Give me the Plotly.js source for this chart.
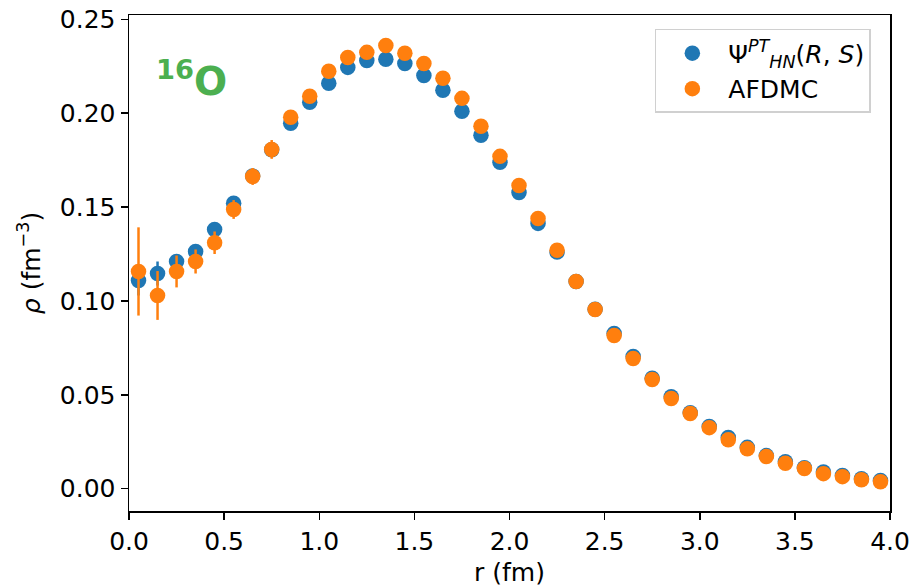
<!DOCTYPE html>
<html>
<head>
<meta charset="utf-8">
<script src="https://cdn.plot.ly/plotly-3.0.1.min.js"></script>
<style>html,body{margin:0;padding:0;background:#fff;}#chart{width:914px;height:587px;}</style>
</head>
<body>
<div id="chart"></div>
<script>
const r = [0.05,0.15,0.25,0.35,0.45,0.55,0.65,0.75,0.85,0.95,1.05,1.15,1.25,1.35,1.45,1.55,1.65,1.75,1.85,1.95,2.05,2.15,2.25,2.35,2.45,2.55,2.65,2.75,2.85,2.95,3.05,3.15,3.25,3.35,3.45,3.55,3.65,3.75,3.85,3.95];
const psiRho = [0.1109,0.1146,0.1210,0.1263,0.1380,0.1520,0.1665,0.1805,0.1946,0.2058,0.2159,0.2244,0.2281,0.2287,0.2265,0.2201,0.2122,0.2010,0.1882,0.1738,0.1578,0.1413,0.1260,0.1103,0.0956,0.0826,0.0704,0.0588,0.0490,0.0405,0.0331,0.0272,0.0220,0.0176,0.0144,0.0112,0.0089,0.0070,0.0053,0.0043];
const psiErr = [0.008,0.0064,0.004,0.003,0.003,0.003,0.003,0.003,0.002,0.002,0.002,0.002,0.002,0.002,0.002,0.002,0.002,0.002,0.002,0.002,0.002,0.002,0.002,0.002,0.002,0.0015,0.0015,0.0015,0.0015,0.001,0.001,0.001,0.001,0.001,0.001,0.001,0.001,0.001,0.001,0.001];
const afdmcRho = [0.1157,0.1029,0.1157,0.1210,0.1310,0.1487,0.1663,0.1807,0.1978,0.2090,0.2223,0.2297,0.2324,0.2361,0.2319,0.2265,0.2186,0.2079,0.1930,0.1770,0.1615,0.1439,0.1270,0.1103,0.0954,0.0816,0.0693,0.0581,0.0480,0.0400,0.0325,0.0261,0.0213,0.0171,0.0135,0.0107,0.0080,0.0064,0.0048,0.0037];
const afdmcErr = [0.0235,0.013,0.0085,0.0064,0.006,0.005,0.0045,0.005,0.003,0.003,0.003,0.003,0.003,0.003,0.003,0.003,0.003,0.003,0.003,0.003,0.003,0.003,0.003,0.002,0.002,0.002,0.002,0.002,0.002,0.002,0.002,0.002,0.002,0.002,0.002,0.002,0.002,0.002,0.002,0.002];

const blue = '#1f77b4', orange = '#ff7f0e';
const font = 'DejaVu Sans, sans-serif';
const fs = 25;

const traces = [
  {x: r, y: psiRho, type: 'scatter', mode: 'markers', name: 'Ψ<sup><i>PT</i></sup><sub><i>HN</i></sub>(<i>R</i>, <i>S</i>)',
   marker: {color: blue, size: 15.5},
   error_y: {type: 'data', array: psiErr, visible: true, color: blue, thickness: 2.5, width: 0}},
  {x: r, y: afdmcRho, type: 'scatter', mode: 'markers', name: 'AFDMC',
   marker: {color: orange, size: 15.5},
   error_y: {type: 'data', array: afdmcErr, visible: true, color: orange, thickness: 2.5, width: 0}}
];

const layout = {
  width: 914, height: 587,
  margin: {l: 128.5, r: 24, t: 15, b: 76.3},
  paper_bgcolor: '#fff', plot_bgcolor: '#fff',
  font: {family: font, size: fs, color: '#000'},
  showlegend: true,
  legend: {x: 0.691, y: 0.972, xanchor: 'left', yanchor: 'top', bgcolor: 'rgba(255,255,255,0.8)',
           bordercolor: '#d0d0d0', borderwidth: 1.5, font: {family: font, size: 25}, itemwidth: 62,
           tracegroupgap: 0},
  xaxis: {range: [0, 4.0], dtick: 0.5, tick0: 0, tickformat: '.1f', showgrid: false, zeroline: false,
          ticks: 'outside', ticklen: 7, tickwidth: 1.5, tickcolor: '#000', showline: true, linecolor: '#000', linewidth: 1.5,
          mirror: true, title: {text: 'r (fm)', font: {family: font, size: fs}, standoff: 9},
          tickfont: {family: font, size: fs}},
  yaxis: {range: [-0.0119, 0.2523], dtick: 0.05, tick0: 0, tickformat: '.2f', showgrid: false, zeroline: false,
          ticks: 'outside', ticklen: 7, tickwidth: 1.5, tickcolor: '#000', showline: true, linecolor: '#000', linewidth: 1.5,
          mirror: true, title: {text: '<i>ρ</i> (fm<sup>−3</sup>)', font: {family: font, size: fs}, standoff: 12},
          tickfont: {family: font, size: fs}},
  annotations: [
    {xref: 'paper', yref: 'paper', x: 0.033, y: 0.87, xanchor: 'left', yanchor: 'middle', showarrow: false,
     text: '<b><sup>16</sup>O</b>', font: {family: 'DejaVu Sans, sans-serif', size: 39, color: '#4caf50'}}
  ]
};

Plotly.newPlot('chart', traces, layout, {displayModeBar: false, staticPlot: true});
</script>
</body>
</html>
